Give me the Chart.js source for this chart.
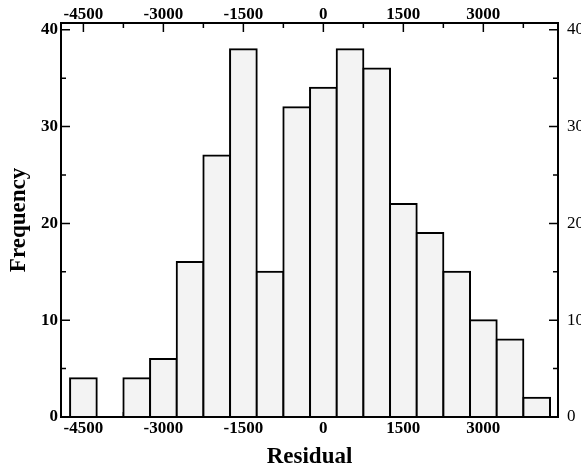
<!DOCTYPE html>
<html>
<head>
<meta charset="utf-8">
<script src="https://cdn.jsdelivr.net/npm/chart.js@4.4.1/dist/chart.umd.min.js"></script>
<style>
  html, body { margin: 0; padding: 0; background: #fff; }
  #wrap { width: 581px; height: 471px; }
</style>
</head>
<body>
<div id="wrap"><canvas id="histChart" width="581" height="471"></canvas></div>
<script>
// residual histogram, bins 500 wide (centres below)
const binCenters = [-4500,-4000,-3500,-3000,-2500,-2000,-1500,-1000,-500,0,500,1000,1500,2000,2500,3000,3500,4000];
const frequencies = [4,0,4,6,16,27,38,15,32,34,38,36,22,19,15,10,8,2];

const xTicks = [-4500,-3000,-1500,0,1500,3000];
const xMinorTicks = [-3750,-2250,-750,750,2250,3750];
const yTicks = [0,10,20,30,40];
const yMinorTicks = [5,15,25,35];

const xMin = -4920, xMax = 4400;
const yMin = 0, yMax = 40.7;

const serif = "'Liberation Serif', 'Times New Roman', serif";
const tickFontBold = { family: serif, size: 17, weight: "bold", lineHeight: 1 };
const tickFontPlain = { family: serif, size: 17, weight: "normal", lineHeight: 1 };
const titleFont = { family: serif, size: 23, weight: "bold", lineHeight: 1.2 };

/* =========================
   FRAME + INWARD TICKS
========================= */
const frame = {
    id: "frame",
    beforeDatasetsDraw(chart) {
        const { ctx, chartArea: a, scales } = chart;
        ctx.save();
        ctx.strokeStyle = "#000";
        ctx.lineWidth = 1.5;
        ctx.beginPath();

        const xMark = (v, len) => {
            const px = scales.x.getPixelForValue(v);
            ctx.moveTo(px, a.top); ctx.lineTo(px, a.top + len);
            ctx.moveTo(px, a.bottom); ctx.lineTo(px, a.bottom - len);
        };
        const yMark = (v, len) => {
            const py = scales.y.getPixelForValue(v);
            ctx.moveTo(a.left, py); ctx.lineTo(a.left + len, py);
            ctx.moveTo(a.right, py); ctx.lineTo(a.right - len, py);
        };

        xTicks.forEach(v => xMark(v, 9));
        xMinorTicks.forEach(v => xMark(v, 5));
        yTicks.forEach(v => yMark(v, 9));
        yMinorTicks.forEach(v => yMark(v, 5));

        ctx.stroke();
        ctx.restore();
    },
    afterDatasetsDraw(chart) {
        const { ctx, chartArea: a } = chart;
        ctx.save();
        ctx.strokeStyle = "#000";
        ctx.lineWidth = 2;
        ctx.strokeRect(a.left, a.top, a.right - a.left, a.bottom - a.top);
        ctx.restore();
    }
};

const setTicks = list => scale => {
    scale.ticks = list.map(v => ({ value: v }));
};

/* =========================
   CHART
========================= */
new Chart(document.getElementById("histChart"), {
    type: "bar",
    data: {
        datasets: [{
            data: binCenters.map((c, i) => ({ x: c, y: frequencies[i] })),
            backgroundColor: "#f3f3f3",
            borderColor: "#000",
            borderWidth: 2,
            inflateAmount: 1,
            barPercentage: 1,
            categoryPercentage: 1
        }]
    },
    options: {
        responsive: false,
        animation: false,
        layout: { padding: 0 },
        plugins: {
            legend: { display: false },
            tooltip: { enabled: false }
        },
        scales: {
            x: {
                type: "linear",
                position: "bottom",
                min: xMin, max: xMax,
                offset: false,
                grid: { display: false, drawTicks: false },
                border: { display: false },
                afterBuildTicks: setTicks(xTicks),
                ticks: {
                    font: tickFontBold, color: "#000", padding: 3,
                    maxRotation: 0, autoSkip: false,
                    callback: v => String(v)
                },
                title: { display: true, text: "Residual", font: titleFont, color: "#000", padding: 0 },
                afterFit: s => { s.height = 54; }
            },
            x2: {
                type: "linear",
                position: "top",
                min: xMin, max: xMax,
                offset: false,
                grid: { display: false, drawTicks: false },
                border: { display: false },
                afterBuildTicks: setTicks(xTicks),
                ticks: {
                    font: tickFontBold, color: "#000", padding: 0,
                    maxRotation: 0, autoSkip: false,
                    callback: v => String(v)
                },
                afterFit: s => { s.height = 23; }
            },
            y: {
                type: "linear",
                position: "left",
                min: yMin, max: yMax,
                grid: { display: false, drawTicks: false },
                border: { display: false },
                afterBuildTicks: setTicks(yTicks),
                ticks: { font: tickFontBold, color: "#000", padding: 3, callback: v => String(v) },
                title: { display: true, text: "Frequency", font: titleFont, color: "#000", padding: { top: 5, bottom: 0 } },
                afterFit: s => { s.width = 61; }
            },
            y2: {
                type: "linear",
                position: "right",
                min: yMin, max: yMax,
                grid: { display: false, drawTicks: false },
                border: { display: false },
                afterBuildTicks: setTicks(yTicks),
                ticks: { font: tickFontPlain, color: "#000", padding: 9, callback: v => String(v) },
                afterFit: s => { s.width = 23; }
            }
        }
    },
    plugins: [frame]
});
</script>
</body>
</html>
